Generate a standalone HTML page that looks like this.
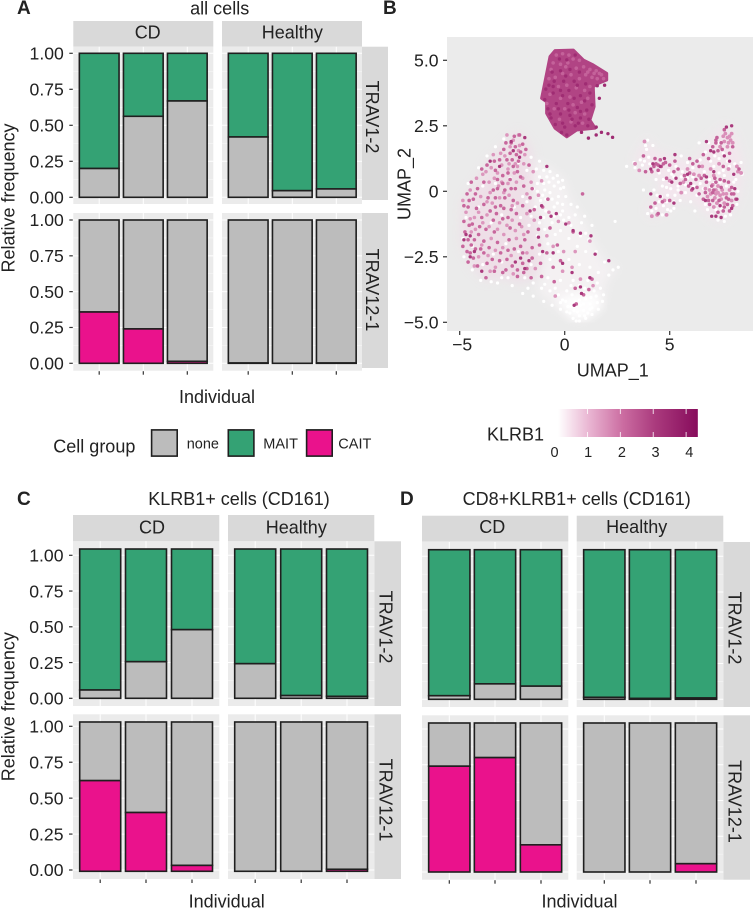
<!DOCTYPE html>
<html lang="en">
<head>
<meta charset="utf-8">
<title>TRAV frequency and KLRB1 UMAP figure</title>
<style>
html,body{margin:0;padding:0;background:#fff;}
svg{display:block;font-family:"Liberation Sans",Arial,sans-serif;fill:#222;}
</style>
</head>
<body>
<svg id="figure" width="753" height="909" viewBox="0 0 753 909" xmlns="http://www.w3.org/2000/svg"></svg>
<script>
/* ---------- stacked bar data (axis units) ---------- */
const conditions = ['CD', 'Healthy'];
const chains = ['TRAV1-2', 'TRAV12-1'];
const yTickLabels = ['0.00', '0.25', '0.50', '0.75', '1.00'];
const yTickValues = [0, 0.25, 0.5, 0.75, 1];
const legendLabels = ['none', 'MAIT', 'CAIT'];
const colorbarTicks = [0, 1, 2, 3, 4];

const panelA_TRAV1_none = [0.20, 0.5625, 0.669, 0.419, 0.046, 0.058];
const panelA_TRAV12_cait = [0.358, 0.24, 0.014, 0.002, 0, 0.002];
const panelC_TRAV1_none = [0.058, 0.256, 0.48, 0.242, 0.019, 0.014];
const panelC_TRAV12_cait = [0.622, 0.40, 0.032, 0, 0, 0.005];
const panelD_TRAV1_none = [0.025, 0.108, 0.092, 0.014, 0.006, 0.009];
const panelD_TRAV12_cait = [0.74, 0.80, 0.19, 0, 0, 0.058];

/* ---------- UMAP data (UMAP_1, UMAP_2), grouped by KLRB1 level ---------- */
const umapXTicks = [-5, 0, 5];
const umapYTicks = [-5, -2.5, 0, 2.5, 5];
const topClusterHull = [[-.46,5.37],[.41,5.39],[.89,5.01],[1.36,4.82],[2,4.5],[2,4.25],[1.6,4.12],[1.36,3.99],[1.4,3.23],[1.2,2.72],[1.45,2.41],[.57,2.34],[.1,2.08],[-.46,2.41],[-.86,2.98],[-.86,3.42],[-1.1,3.55],[-.94,4.18],[-.7,5.14]];
const topClusterHullExpr = 2.8;
const leftPinkHull = [[-2.2,2.3],[-1.6,1.7],[-1.4,.8],[-1.5,-.3],[-1.2,-1.3],[-1,-2.6],[-1.3,-3.3],[-2.2,-3.5],[-3,-3.3],[-3.8,-3.4],[-4.4,-2.9],[-4.95,-2],[-4.9,-.4],[-4.2,.4],[-3.6,1.2],[-2.9,1.8]];
const leftPaleHull = [[-1.4,1.2],[-.6,.8],[-.05,.45],[.3,-.4],[1,-1.2],[1.4,-2],[1.9,-2.7],[2.55,-2.9],[2,-3.4],[1.8,-4.3],[1,-4.9],[.4,-4.9],[-.3,-4.5],[-1.3,-3.8],[-1,-2.6],[-1.2,-1.3],[-1.5,-.3]];
const leftWhiteHull = [[-.4,-4.1],[.6,-3.9],[1.6,-3.9],[1.8,-4.4],[1,-4.9],[.4,-4.9]];
const rightPaleHull = [[3.3,1.2],[3.9,2],[4.4,1.5],[5.4,1.3],[6.2,1.1],[6.8,1.9],[7.6,2.5],[8.1,2.2],[8.5,1],[8.3,-.2],[7.9,-.9],[7.3,-1.2],[6.7,-.8],[6,-.3],[5.3,-.3],[4.8,-.8],[4.1,-1],[3.9,-.7],[4.5,0],[4.5,.5],[3.7,.8]];
const topClusterLight = [[-.4,5.2],[-.1,5.25],[.2,5.2],[.4,5.05],[-.55,4.9],[-.2,4.85],[.15,4.9],[.55,4.7],[.9,4.75],[1.2,4.65],[1.5,4.6],[1.75,4.45],[1.3,4.35],[1,4.45],[.7,4.3],[.3,4.45],[-.1,4.5],[-.45,4.35],[-.75,4.3],[-.3,4],[.1,4.05],[.55,3.95],[.95,3.85],[1.2,4],[-.7,3.7],[-.2,3.55],[.25,3.6],[.8,3.4],[1.1,3.55],[-.5,3.15],[0,3.15],[.5,3],[.95,2.95],[-.25,2.75],[.3,2.65],[.85,2.6],[.05,4.75],[.7,5],[-.65,4.65],[1.55,4.3],[1.85,4.3],[.4,3.3],[-.85,3.35],[1.1,4.55],[1.4,4.5],[1.65,4.5]];
const topClusterDeep = [[-.25,5.05],[.1,5.02],[.5,5.2],[-.6,4.55],[-.2,4.6],[.25,4.65],[.7,4.55],[.45,4.2],[-.05,4.2],[-.55,4],[-.9,3.9],[.2,3.85],[.75,3.65],[1.2,3.75],[1.3,3.3],[-.95,3.5],[-.4,3.35],[.15,3.35],[.6,3.2],[1.05,3.1],[-.7,2.95],[-.2,2.95],[.25,2.9],[.75,2.8],[1.15,2.75],[-.45,2.55],[0,2.45],[.5,2.5],[1.1,2.5],[.1,2.15],[-.15,2.25],[.8,2.25],[1.5,2.45],[1.75,2.25],[1.5,2.15],[1.13,2.03],[1.65,3.55],[1.9,4.05],[1.55,4.03],[2.06,2.2],[2.28,2.06],[-.55,3.75],[-.1,3.65],[.45,3.55],[.95,3.45],[-.8,3.15],[-.3,3.15],[.2,3.1],[.75,3.05],[-.5,4.2],[.05,4.4],[.6,4.05],[1,4.1],[-.75,4.05],[-.2,3.85],[.35,2.75],[.65,2.6],[-.1,2.6],[-.65,2.8]];
const leftWhite = [[-4.6,.3],[-4.1,.9],[-3.7,1.35],[-3.3,1.7],[-2.9,2],[-1.6,1.3],[-1.2,1.15],[-1,.8],[-.7,.75],[-.35,.6],[-.1,.42],[-.05,.15],[.05,-.2],[.3,-.5],[.5,-.9],[.8,-1.2],[1,-1.6],[1.15,-1.85],[.75,-1.7],[.3,-1.3],[-.2,-.9],[-.5,-.6],[-.9,-.3],[-1.3,0],[-1,.3],[-.5,.2],[-.3,-.2],[-.7,-.05],[-1.2,.55],[-1.5,.1],[-1.8,-.4],[-1.4,-.6],[-1,-1],[-.6,-1.2],[-.2,-1.5],[.2,-1.8],[.6,-2.1],[1,-2.3],[1.5,-2.3],[1.9,-2.7],[2.3,-3],[2.55,-2.9],[2.1,-3.2],[1.6,-3.1],[1.2,-2.9],[.7,-2.8],[.2,-2.6],[-.3,-2.3],[-.8,-2],[-1.3,-1.7],[-1.7,-1.3],[-2.1,-1],[-2.4,-.6],[-3,-.9],[-3.5,-1.2],[-4.1,-.6],[-4.7,-1],[-4.85,-1.8],[-4.8,-2.5],[-4.4,-3],[-4,-3.4],[-3.5,-3.45],[-3,-3.3],[-2.5,-3.6],[-2,-3.9],[-1.5,-4],[-1,-4.2],[-.6,-4.35],[-.2,-4.5],[.1,-4.6],[.4,-4.85],[.7,-4.95],[1,-4.85],[1.3,-4.7],[1.6,-4.5],[1.8,-4.2],[1.5,-4],[1.2,-4.3],[.9,-4.55],[.6,-4.6],[.3,-4.4],[.05,-4.2],[.5,-4.2],[1,-4.1],[1.4,-3.8],[1.7,-3.7],[.1,-3.8],[-.3,-3.95],[-.7,-3.8],[-1.1,-3.7],[-1.5,-3.5],[-.8,-3.3],[-.2,-3.4],[.4,-3.4],[-1.6,-2.8],[-1.2,-2.4],[-.7,-2.6],[-2.2,-2.3],[-2.8,-2],[-3.4,-2.4],[-3.9,-2.8],[-4.4,-2.1],[-2,-.2],[-2.6,.5],[-3.3,.3],[-3.9,.2],[-2.2,1.1],[-1.8,.8],[.6,-.6],[.95,-.95],[1.3,-1.3],[-.1,-.5],[.2,-1],[.7,-3.6],[1.1,-3.4],[2.4,-1.15],[-3,-2.7],[-1.9,-3.3],[.9,-4.3],[1.3,-4.45],[.55,-4.95],[.25,-4.65],[.75,-4.35],[1.1,-4.65],[1.55,-4.25],[-.1,-4.15],[.35,-3.95],[-.45,-1.65],[-.95,-1.45],[-.05,-1.1],[-.75,.35],[-.95,.05],[-1.15,-.35],[-1.35,.85],[-.85,.55],[-.55,.5],[-.3,.35],[-.6,-.3],[-.2,.1],[-1.05,-.15],[-1.3,.3],[-.35,-.45],[-.9,-.75],[-1.2,-1.2],[-.5,-.95],[-.1,-.75],[-1.6,-.95],[.7,-4.75],[.45,-4.55],[.95,-4.75],[1.2,-4.5],[.7,-4.15],[1.25,-4.05],[.15,-4.4],[-.2,-4.25],[-.45,-3.7],[-.95,-3.55],[.3,-3.6],[.95,-3.7],[1.55,-3.5],[1.85,-3.95],[-1.75,-3.7],[-2.7,-3.3],[-3.2,-3.5]];
const leftLight = [[-2.2,2.15],[-3.05,1.45],[-3.4,1.4],[-3,1],[-3.5,.9],[-2.7,.85],[-3.9,.65],[-4.2,.5],[-3.6,.35],[-3,.35],[-2.6,1.7],[-2.15,1.75],[-1.9,1.4],[-2.35,1.05],[-1.95,1.05],[-2.7,.3],[-2.3,.35],[-2,.5],[-1.5,.75],[-1.1,.4],[-1.6,.35],[-4.5,.05],[-4.85,-.35],[-4,-.2],[-3.55,-.05],[-3.1,-.25],[-2.65,-.15],[-2.25,-.45],[-1.8,-.1],[-1.25,-.15],[-.75,-.8],[-4.7,-.8],[-4.3,-1],[-3.7,-.9],[-3.1,-1.2],[-2.5,-1.1],[-1.8,-.85],[-.3,-1.15],[.2,-1.2],[-.55,-2.1],[-.05,-2.3],[.5,-2.3],[1.2,-1.9],[-3.5,-1.8],[-2.9,-1.65],[-2.3,-1.8],[-4.45,-1.55],[-4.1,-2.5],[-3.3,-2.9],[-.1,-3.05],[.35,-2.9],[.75,-3.35],[1.35,-3.6],[-.45,-4],[-2.75,2.15],[-2.4,.7],[-3.2,.7],[-3.7,-.4],[-2.05,-1.35],[-1.45,-1.1],[-.85,-1.7],[-2.65,1.05],[-2.85,1.35],[-2.25,.95],[-3.15,.2],[-2.9,-.05],[-2.5,-.55],[-3.45,-.45],[-4.1,-.8],[-4.5,-1.05],[-4.25,-1.45],[-3.9,-1.2],[-3.6,-1.35],[-3.2,-1.45],[-2.75,-1.3],[-2.35,-1.5],[-1.95,-1.65],[-3.95,-2.05],[-3.65,-2.45],[-3.3,-2.25],[-2.95,-2.15],[-2.55,-2.45],[-4.3,-2.85],[-3.55,-3.05],[-1.8,-2.35],[-1.4,-2.95],[-2.45,-3.15],[-2.2,1.55],[-2.45,1.95],[-3.75,.75],[-3.35,.5]];
const leftMid = [[-2.15,2.15],[-2.55,1.85],[-2.8,1.85],[-2.35,1.7],[-2.6,1.45],[-2.3,1.4],[-2.1,1.5],[-2.5,1.2],[-2.75,1.2],[-2.2,1.15],[-1.85,1.6],[-2.45,.95],[-2.7,.7],[-2.25,.75],[-2.95,.6],[-3.2,.45],[-3.35,1.15],[-3.7,1],[-3.95,.85],[-3.3,.8],[-2.95,.3],[-3.2,.1],[-2.85,.05],[-2.55,.1],[-2.35,.1],[-2.85,-.25],[-2.45,-.35],[-3.3,-.25],[-3.65,-.25],[-4.15,.1],[-4.45,.35],[-4.65,-.1],[-4.35,-.3],[-4.8,-.55],[-4.6,-.6],[-3.85,-.5],[-3.3,-.6],[-2.9,-.65],[-2.55,-.7],[-2,-.55],[-1.65,-.25],[-1.55,.1],[-1.95,.2],[-2.1,.55],[-1.7,1],[-1.45,-.7],[-1.05,-.6],[-.8,-.3],[-4.8,-1.15],[-4.55,-1.3],[-4.75,-1.55],[-4.4,-1.25],[-4.05,-1.35],[-3.75,-1.45],[-3.4,-1.1],[-2.95,-1.05],[-2.6,-1.4],[-2.15,-1.25],[-1.75,-1.55],[-1.25,-1.45],[-.7,-1.4],[-4.85,-2.1],[-4.65,-2.3],[-4.45,-2.05],[-4.3,-1.85],[-4.1,-1.65],[-3.85,-1.9],[-4.6,-2.7],[-4.35,-2.55],[-4.15,-2.85],[-3.85,-2.35],[-3.6,-2.15],[-3.7,-2.75],[-3.2,-1.95],[-3.05,-2.35],[-2.75,-2.6],[-3.35,-3.05],[-3.75,-3.3],[-2.95,-3.1],[-2.4,-2.2],[-2,-2.35],[-2.5,-2.85],[-2.25,-3],[-2,-2.75],[-2.25,-3.25],[-1.95,-3.1],[-1.55,-2.15],[-1.2,-2.05],[-1.55,-2.55],[-1.15,-2.75],[-.85,-2.35],[-.55,-2.9],[-.35,-2.05],[.4,-1.55],[-1.6,-3.3],[-1.1,-3.25],[-.5,-3.45],[.5,-3.7],[.9,-3.95],[.55,-4.3],[1.15,-3.75],[1.3,-3.35],[-2.8,-3],[-3.55,-.75],[-1.9,-1.85],[-2.65,-1.85],[-3.35,-1.55],[-.2,-2.65],[.85,-.1],[-2.4,2.1],[-2,1.8],[-2.9,1.6],[-3.1,1.2],[-2.6,.45],[-3.05,-.55],[-3.4,.05],[-3.85,.35],[-4.25,-.1],[-4.55,-.35],[-4.2,-.65],[-3.95,-1],[-3.25,-.85],[-2.7,-1],[-2.3,-.85],[-4.6,-1.85],[-4.25,-2.2],[-4.5,-2.35],[-4,-2.2],[-3.45,-2.6],[-3.1,-2.65],[-2.7,-2.25],[-1.8,-2.95],[-2.1,-2.1]];
const leftDeep = [[-2.55,1.9],[-1.9,2.05],[-2.45,1.55],[-2.15,1.3],[-3.55,1.15],[-3.1,.95],[-1.65,-.75],[-1.15,-1],[-.65,-.95],[-4.7,-1.65],[-4.5,-1.7],[-4.8,-1.85],[-4.3,-2.3],[-4.5,-2.5],[-3.95,-3.05],[-1.25,-1.75],[-2.35,-2.7],[-2.1,-2.55],[-1.7,-2.65],[-1.9,-2.95],[-1.05,-2.3],[-1.1,-.55],[-.4,-.85],[-.55,-2.35],[-.1,-2.75],[.4,-1.5],[.75,-1.6],[1.25,-1.7],[1.45,-2.4],[.05,-1.25],[.35,-3.1],[.75,-3.65],[.8,-3.9],[1.2,-3.3],[.45,-4.35],[2.1,-2.65],[-.85,.95]];
const rightWhite = [[3.95,1.95],[3.9,1.6],[4,1.3],[4.2,1.75],[3.6,1.2],[3.3,1.1],[3.7,1],[3.35,.9],[4.1,.85],[4.5,.7],[4.95,.8],[5.3,.95],[5.6,.75],[5.85,.5],[6.1,.9],[6.45,1.2],[6.7,1.5],[6.85,1.85],[6.4,1.85],[7.1,.95],[7.55,.8],[7.85,.95],[8.05,.65],[7.4,.35],[6.9,.45],[6.45,.3],[6.15,.2],[5.75,-.05],[5.4,.2],[5,.35],[4.65,.2],[4.9,-.15],[5.2,-.4],[5.05,-.75],[4.7,-.55],[4.4,-.15],[4.25,.05],[5.5,-.35],[6,-.4],[6.3,-.15],[3.75,.05],[4.35,-.65],[4.65,-.9],[4.15,-.75],[3.95,-.85],[7,-.9],[7.3,-1.1],[7.6,-1.15],[7.9,-.9],[8.2,-.5],[8.25,0],[8.05,.35],[6.7,-.5],[6.95,.15],[7.7,.2],[7.45,-.65],[8.45,.65],[8.4,1.1],[7.15,1.35],[7.55,1.45],[7.35,1.85],[6.65,.75],[5.85,1.1],[5.55,1.35],[2.95,.95],[6.2,-.75],[5.55,.55],[4.35,.45],[5.2,.55],[4.05,1.05],[3.85,1.75],[3.8,1.15],[4.7,.45],[5.1,.65],[5.4,.05],[5.05,.1],[4.85,.15],[4.6,-.2],[4.5,-.4],[4.85,-.4],[5.25,-.15],[5.75,.25],[6.1,.55],[6.6,.1],[7.1,.3],[7.6,.6],[7.35,.7],[6.95,1.15],[7.35,1.25],[7.75,1.15],[8.1,1.05],[8.15,.45],[7.65,-.95],[7.2,-.7],[6.8,-.7],[5.2,-.65],[4.9,-.7]];
const rightLight = [[3.35,1.05],[3.55,.8],[3.8,1.9],[5,.4],[5.65,.35],[6.15,.65],[6.4,.6],[6.55,.95],[6.95,.85],[7.1,.6],[7.35,1.05],[7.8,.85],[8.2,.95],[8.25,.75],[8.4,.7],[7.55,2.1],[7.75,2.05],[7.9,1.95],[7.75,1.7],[7.4,1.7],[7.95,2.2],[7.6,1.9],[8,1.85],[7.2,-.1],[7.45,-.3],[7.7,-.1],[6.9,.05],[6.8,-.2],[7.95,-.35],[7.85,.05],[7.1,-.6],[5.55,-.05],[4.75,-.35],[4.4,-.9],[4.15,-.95],[4.85,-.9],[6.7,.1],[5.85,.85],[7.3,-.05],[7.55,-.1],[7.3,.2],[7.05,.25],[7.15,-.25],[7.4,-.15],[7.6,-.45],[6.95,-.1],[7.25,-.45],[7.5,.05],[7.8,1.85],[7.65,2.2],[7.85,2.1],[7.2,.05]];
const rightMid = [[3.75,1.35],[4.3,1.25],[4.55,1.2],[4.35,1.05],[4.6,.95],[4.8,1.1],[5,1],[5.25,1.15],[5.4,.85],[4.45,.8],[4.15,.75],[3.85,.75],[5.95,1.25],[6.3,1.15],[6.1,1.05],[6.6,1.4],[6.4,.95],[5.5,.3],[5.75,.45],[5.9,.2],[6.05,.05],[6.25,.45],[6.5,.5],[6.75,.35],[6.4,-.1],[6.6,-.3],[6.85,-.35],[7.05,-.05],[7.2,.35],[7.45,.15],[7.6,.4],[7.8,.35],[7.95,.15],[8.05,-.1],[8.15,-.3],[7.75,-.5],[7.55,-.75],[7.3,-.8],[7.05,-.35],[7.85,-.75],[8,-.55],[7.2,1.85],[7.05,1.7],[7.3,1.55],[7.5,1.6],[7.85,1.45],[8,1.7],[7.25,2.05],[7.6,2.35],[8.3,.85],[6.85,1.25],[7.55,.95],[4.85,.5],[5,-.35],[4.3,-.45],[4.65,-.4],[4.1,-.6],[4.45,-.85],[5.2,.75],[7.7,-.25],[4.45,1],[4.7,1.05],[4.25,.95],[7.2,1.95],[7.45,1.85],[7.1,.05],[6.9,-.5],[7.35,-.35],[7.6,-.6],[7.8,-.3],[7.95,-.1],[6.7,-.05],[7,.2],[7.15,.5],[7.4,.45],[6.65,.6],[6.3,.15],[5.7,.6],[5.95,.7]];
const rightDeep = [[4.2,1.05],[4.1,.85],[4.55,.95],[4.75,1.25],[5.3,.5],[5.1,.35],[5.85,.65],[6,.3],[7.1,1.5],[6.95,1.55],[7.7,2.45],[7.95,2.5],[7.85,1.15],[7.6,1.35],[8.1,.1],[8.2,-.3],[7.95,-.65],[7.4,-.55],[7.2,-.95],[7,-.95],[7.45,-1],[6.7,-.35],[6.75,.55],[7.1,.75],[6.1,.1],[5.2,-.45],[4.1,-.1],[4.55,-.2],[8.05,.65],[5.25,1.4],[6.75,1.9]];
const umapSeries = [
  {name:'left-white', points:leftWhite, expr:0, r:1.6},
  {name:'right-white', points:rightWhite, expr:0, r:1.6},
  {name:'left-light', points:leftLight, expr:1.4, r:1.8},
  {name:'right-light', points:rightLight, expr:1.5, r:1.9},
  {name:'left-mid', points:leftMid, expr:2.1, r:1.8},
  {name:'right-mid', points:rightMid, expr:2.2, r:1.8},
  {name:'left-deep', points:leftDeep, expr:3, r:1.7},
  {name:'right-deep', points:rightDeep, expr:3, r:1.7},
  {name:'top-light', points:topClusterLight, expr:2.2, r:1.8},
  {name:'top-deep', points:topClusterDeep, expr:3.4, r:1.7}
];
const umapRegions = [
  {name:'left-pink-region', hull:leftPinkHull, expr:0.55, opacity:.5},
  {name:'left-pale-region', hull:leftPaleHull, expr:0.1, opacity:.5},
  {name:'left-white-region', hull:leftWhiteHull, expr:0, opacity:.9},
  {name:'right-pale-region', hull:rightPaleHull, expr:0.35, opacity:.7}
];

/* ---------- helpers ---------- */
const NS = 'http://www.w3.org/2000/svg';
const svg = document.getElementById('figure');
const COLORS = {none:'#bcbcbc', mait:'#34a274', cait:'#ea128c', ink:'#1f1f1f'};
const BAR_STROKE = 1.6;

function shape(tag, name, props, parent) {
  const el = document.createElementNS(NS, tag);
  
  
  for (const k in props) el.setAttribute(k, props[k]);
  (parent || svg).appendChild(el);
  return el;
}
function label(str, name, x, y, size, anchor, rotate, weight) {
  const el = document.createElementNS(NS, 'text');
  
  
  el.setAttribute('x', x);
  el.setAttribute('y', y);
  el.setAttribute('font-size', size);
  el.setAttribute('text-anchor', anchor || 'start');
  if (rotate) el.setAttribute('transform', 'rotate(' + rotate + ' ' + x + ' ' + y + ')');
  if (weight) el.setAttribute('font-weight', weight);
  el.textContent = str;
  svg.appendChild(el);
  return el;
}
function rect(name, x, y, w, h, fill, extra) {
  return shape('rect', name, Object.assign({x:x, y:y, width:w, height:h, fill:fill}, extra || {}));
}
function hline(name, x1, x2, y, color, width) {
  return shape('line', name, {x1:x1, x2:x2, y1:y, y2:y, stroke:color, 'stroke-width':width});
}
function vline(name, x, y1, y2, color, width) {
  return shape('line', name, {x1:x, x2:x, y1:y1, y2:y2, stroke:color, 'stroke-width':width});
}

/* draws one faceted stacked-bar figure */
function drawFacets(cfg) {
  const id = cfg.id;
  cfg.strips.forEach(function (s, c) {
    rect(id + '-strip-' + conditions[c], s.x0, cfg.stripY[0], s.x1 - s.x0, cfg.stripY[1] - cfg.stripY[0], '#d9d9d9');
    label(conditions[c], id + '-strip-label-' + conditions[c], s.tx, cfg.stripTextY, 18, 'middle');
  });
  cfg.rows.forEach(function (row, r) {
    const yOf = function (v) { return row.y0 - v * (row.y0 - row.y1); };
    rect(id + '-row-strip-' + chains[r], cfg.rowStrip.x0, row.stripTop, cfg.rowStrip.x1 - cfg.rowStrip.x0, row.stripBottom - row.stripTop, '#d9d9d9');
    label(chains[r], id + '-row-label-' + chains[r], cfg.rowStrip.tx, row.tc, 18, 'middle', 90);
    cfg.strips.forEach(function (s, c) {
      const offset = c * 3;
      rect(id + '-panel-' + conditions[c] + '-' + chains[r], s.x0, row.top, s.x1 - s.x0, row.bottom - row.top, '#ebebeb');
      yTickValues.forEach(function (v, i) {
        hline(id + '-grid-major', s.x0, s.x1, yOf(v), '#ffffff', 1);
        if (i < yTickValues.length - 1) hline(id + '-grid-minor', s.x0, s.x1, yOf(v + 0.125), '#f7f7f7', 0.6);
      });
      cfg.centers[c].forEach(function (cx) { vline(id + '-grid-vertical', cx, row.top, row.bottom, '#ffffff', 1); });
      cfg.centers[c].forEach(function (cx, b) {
        const v = row.values[offset + b];
        const left = cx - cfg.barW / 2;
        const baseY = yOf(row.base);
        const midY = yOf(v + (v > 0 ? 0 : row.base));
        const topY = yOf(row.total);
        rect(id + '-bar-upper-' + chains[r] + '-' + conditions[c] + '-' + (b + 1), left, topY, cfg.barW, midY - topY, row.upper, {stroke:COLORS.ink, 'stroke-width':BAR_STROKE});
        if (v > 0) rect(id + '-bar-lower-' + chains[r] + '-' + conditions[c] + '-' + (b + 1), left, midY, cfg.barW, baseY - midY, row.lower, {stroke:COLORS.ink, 'stroke-width':BAR_STROKE});
        if (r === cfg.rows.length - 1) vline(id + '-x-tick', cx, row.bottom + 0.5, row.bottom + 4, '#333333', 1.2);
      });
    });
    if (cfg.yLabels) {
      yTickValues.forEach(function (v, i) {
        hline(id + '-y-tick', cfg.strips[0].x0 - 4, cfg.strips[0].x0 - 0.5, yOf(v), '#333333', 1.2);
        label(yTickLabels[i], id + '-y-tick-label', cfg.strips[0].x0 - 9.5, yOf(v) + 6.2, 17.6, 'end');
      });
    }
  });
}

/* ---------- panel letters and titles ---------- */
label('A', 'panel-letter-a', 17, 14, 19, 'start', 0, 'bold');
label('B', 'panel-letter-b', 383, 14, 19, 'start', 0, 'bold');
label('C', 'panel-letter-c', 17, 505, 19, 'start', 0, 'bold');
label('D', 'panel-letter-d', 400, 505, 19, 'start', 0, 'bold');
label('all cells', 'title-a', 219.7, 14.7, 18, 'middle');
label('KLRB1+ cells (CD161)', 'title-c', 239, 505, 18, 'middle');
label('CD8+KLRB1+ cells (CD161)', 'title-d', 576.7, 505, 18, 'middle');

/* ---------- panel A ---------- */
drawFacets({
  id:'panel-a', yLabels:true, barW:39.7,
  stripY:[21,46.7], stripTextY:38.5,
  strips:[{x0:73.3, x1:213.3, tx:147.7}, {x0:222, x1:362, tx:292.3}],
  centers:[[99.2,143.3,187.3],[248.2,292.3,336.3]],
  rowStrip:{x0:362, x1:388, tx:366},
  rows:[
    {top:46.7, bottom:204, y0:197.3, y1:53.3, base:0, total:1, values:panelA_TRAV1_none, lower:COLORS.none, upper:COLORS.mait, stripTop:46.7, stripBottom:200, tc:117},
    {top:213, bottom:370.7, y0:363.3, y1:220, base:0, total:1, values:panelA_TRAV12_cait, lower:COLORS.cait, upper:COLORS.none, stripTop:213, stripBottom:368, tc:290}
  ]
});
label('Relative frequency', 'y-axis-title-a', 14.5, 198, 18, 'middle', -90);
label('Individual', 'x-axis-title-a', 217, 403, 18, 'middle');

/* ---------- legend ---------- */
label('Cell group', 'legend-title', 53.3, 452.3, 18);
[[151, COLORS.none, 186.7], [227.7, COLORS.mait, 263.3], [306, COLORS.cait, 338.3]].forEach(function (k, i) {
  rect('legend-key-' + legendLabels[i], k[0] + 0.6, 429.9, 25.6, 26.2, k[1], {stroke:COLORS.ink, 'stroke-width':BAR_STROKE});
  label(legendLabels[i], 'legend-label-' + legendLabels[i], k[2], 448.3, 14.5);
});

/* ---------- panel C ---------- */
drawFacets({
  id:'panel-c', yLabels:true, barW:41,
  stripY:[515,541.3], stripTextY:533.3,
  strips:[{x0:73, x1:219.3, tx:152}, {x0:228, x1:374.3, tx:296.3}],
  centers:[[100.2,146,192],[255.2,301.2,347]],
  rowStrip:{x0:374.3, x1:401, tx:379.3},
  rows:[
    {top:541.3, bottom:706, y0:698.3, y1:555.3, base:0, total:1.044, values:panelC_TRAV1_none, lower:COLORS.none, upper:COLORS.mait, stripTop:541.3, stripBottom:706, tc:627},
    {top:714.3, bottom:879, y0:870, y1:726.3, base:-0.009, total:1.03, values:panelC_TRAV12_cait, lower:COLORS.cait, upper:COLORS.none, stripTop:714.3, stripBottom:879, tc:800}
  ]
});
label('Relative frequency', 'y-axis-title-c', 14.5, 706.7, 18, 'middle', -90);
label('Individual', 'x-axis-title-c', 226.7, 907.5, 18, 'middle');

/* ---------- panel D ---------- */
drawFacets({
  id:'panel-d', yLabels:false, barW:41.3,
  stripY:[515.7,541.7], stripTextY:533,
  strips:[{x0:422, x1:568.3, tx:492.3}, {x0:576.7, x1:723.3, tx:636.7}],
  centers:[[449.3,495,541],[604.3,650,696]],
  rowStrip:{x0:723.3, x1:750, tx:728.3},
  rows:[
    {top:542, bottom:707, y0:699.3, y1:556.3, base:0, total:1.046, values:panelD_TRAV1_none, lower:COLORS.none, upper:COLORS.mait, stripTop:542, stripBottom:707, tc:628},
    {top:715.3, bottom:879.7, y0:872, y1:729, base:0, total:1.042, values:panelD_TRAV12_cait, lower:COLORS.cait, upper:COLORS.none, stripTop:715.3, stripBottom:879.7, tc:801.5}
  ]
});
label('Individual', 'x-axis-title-d', 579.5, 907.5, 18, 'middle');

/* ---------- panel B: UMAP ---------- */
const ux = function (v) { return 564.7 + 21 * v; };
const uy = function (v) { return 191.3 - 26.2 * v; };
const stops = [[0,[255,255,255]],[1,[232,178,208]],[2,[203,108,161]],[3,[170,58,125]],[4.3,[135,12,92]]];
function exprColor(e) {
  for (let i = 1; i < stops.length; i++) {
    if (e <= stops[i][0]) {
      const a = stops[i - 1], b = stops[i], t = (e - a[0]) / (b[0] - a[0]);
      return 'rgb(' + [0, 1, 2].map(function (k) { return Math.round(a[1][k] + t * (b[1][k] - a[1][k])); }).join(',') + ')';
    }
  }
  return 'rgb(135,12,92)';
}
const hullPoints = function (hull) { return hull.map(function (p) { return ux(p[0]) + ',' + uy(p[1]); }).join(' '); };
const defs = document.createElementNS(NS, 'defs');
const blur = document.createElementNS(NS, 'filter');
blur.setAttribute('id', 'region-blur');
const blurStep = document.createElementNS(NS, 'feGaussianBlur');
blurStep.setAttribute('stdDeviation', '5');
blur.appendChild(blurStep);
defs.appendChild(blur);
rect('umap-panel', 447, 37, 306, 294, '#ebebeb');
umapXTicks.forEach(function (v) {
  vline('umap-x-tick', ux(v), 331, 335, '#333333', 1.2);
  label(String(v).replace('-', '\u2212'), 'umap-x-tick-label', ux(v) + (v < 0 ? 2.5 : 0), 350.7, 17.6, 'middle');
});
umapYTicks.forEach(function (v) {
  hline('umap-y-tick', 443, 447, uy(v), '#333333', 1.2);
  const text = v === 0 ? '0' : v.toFixed(1).replace('-', '\u2212');
  label(text, 'umap-y-tick-label', 438.5, uy(v) + 6.2, 17.6, 'end');
});
umapRegions.forEach(function (reg) {
  shape('polygon', 'umap-' + reg.name, {points:hullPoints(reg.hull), fill:exprColor(reg.expr), opacity:reg.opacity, filter:'url(#region-blur)'});
});
shape('polygon', 'umap-top-cluster-hull', {
  points: hullPoints(topClusterHull),
  fill: exprColor(topClusterHullExpr), stroke: exprColor(topClusterHullExpr), 'stroke-width': 3, 'stroke-linejoin': 'round'
});
const pointLayer = shape('g', 'umap-points', {});
umapSeries.forEach(function (s) {
  s.points.forEach(function (p) {
    shape('circle', 'umap-point-' + s.name, {cx:ux(p[0]), cy:uy(p[1]), r:s.r, fill:exprColor(s.expr)}, pointLayer);
  });
});
label('UMAP_1', 'umap-x-axis-title', 612.8, 376.7, 18, 'middle');
label('UMAP_2', 'umap-y-axis-title', 410.7, 184, 18, 'middle', -90);

/* ---------- colorbar ---------- */
const grad = document.createElementNS(NS, 'linearGradient');
grad.setAttribute('id', 'klrb1-gradient');
stops.forEach(function (s) {
  const st = document.createElementNS(NS, 'stop');
  st.setAttribute('offset', (s[0] / 4.3 * 100) + '%');
  st.setAttribute('stop-color', 'rgb(' + s[1].join(',') + ')');
  grad.appendChild(st);
});
defs.appendChild(grad);
svg.appendChild(defs);
const cbX = function (v) { return 558 + 32.9 * v; };
rect('colorbar', cbX(0), 409, cbX(4.25) - cbX(0), 28, 'url(#klrb1-gradient)');
colorbarTicks.forEach(function (v) {
  if (v > 0) {
    vline('colorbar-tick', cbX(v) - 3.5, 409, 414, '#ffffff', 0.8);
    vline('colorbar-tick', cbX(v) - 3.5, 432, 437, '#ffffff', 0.8);
  }
  label(String(v), 'colorbar-label', 554.5 + 33.7 * v, 457, 14.5, 'middle');
});
label('KLRB1', 'colorbar-title', 487, 440.7, 18);
</script>
</body>
</html>
